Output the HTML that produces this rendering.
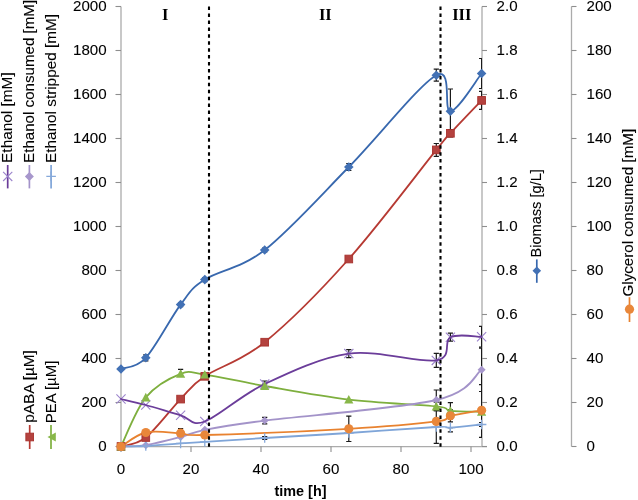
<!DOCTYPE html>
<html><head><meta charset="utf-8"><style>
html,body{margin:0;padding:0;background:#fff;-webkit-font-smoothing:antialiased;}
svg{display:block;will-change:transform;}
text{font-family:"Liberation Sans", sans-serif;font-size:14.4px;fill:#000;stroke:#000;stroke-width:0.1px;}
.b{font-weight:bold;stroke-width:0;}
.n{font-size:15.1px;}
.r{font-family:"Liberation Serif", serif;font-weight:bold;font-size:16.5px;fill:#000;stroke-width:0;}
</style></head><body>
<svg width="638" height="500" viewBox="0 0 638 500">
<defs><clipPath id="pc"><rect x="0" y="0" width="482" height="500"/></clipPath></defs>
<line x1="121" y1="6.5" x2="121" y2="446.5" stroke="#ABABAB" stroke-width="1.3"/>
<line x1="115.5" y1="6.5" x2="121" y2="6.5" stroke="#8E8E8E" stroke-width="1.1"/>
<line x1="115.5" y1="50.5" x2="121" y2="50.5" stroke="#8E8E8E" stroke-width="1.1"/>
<line x1="115.5" y1="94.5" x2="121" y2="94.5" stroke="#8E8E8E" stroke-width="1.1"/>
<line x1="115.5" y1="138.5" x2="121" y2="138.5" stroke="#8E8E8E" stroke-width="1.1"/>
<line x1="115.5" y1="182.5" x2="121" y2="182.5" stroke="#8E8E8E" stroke-width="1.1"/>
<line x1="115.5" y1="226.5" x2="121" y2="226.5" stroke="#8E8E8E" stroke-width="1.1"/>
<line x1="115.5" y1="270.5" x2="121" y2="270.5" stroke="#8E8E8E" stroke-width="1.1"/>
<line x1="115.5" y1="314.5" x2="121" y2="314.5" stroke="#8E8E8E" stroke-width="1.1"/>
<line x1="115.5" y1="358.5" x2="121" y2="358.5" stroke="#8E8E8E" stroke-width="1.1"/>
<line x1="115.5" y1="402.5" x2="121" y2="402.5" stroke="#8E8E8E" stroke-width="1.1"/>
<line x1="115.5" y1="446.5" x2="121" y2="446.5" stroke="#8E8E8E" stroke-width="1.1"/>
<line x1="121" y1="446.7" x2="487" y2="446.7" stroke="#ABABAB" stroke-width="1.3"/>
<line x1="121.0" y1="446.5" x2="121.0" y2="452" stroke="#8E8E8E" stroke-width="1.1"/>
<line x1="191.0" y1="446.5" x2="191.0" y2="452" stroke="#8E8E8E" stroke-width="1.1"/>
<line x1="261.0" y1="446.5" x2="261.0" y2="452" stroke="#8E8E8E" stroke-width="1.1"/>
<line x1="331.0" y1="446.5" x2="331.0" y2="452" stroke="#8E8E8E" stroke-width="1.1"/>
<line x1="401.0" y1="446.5" x2="401.0" y2="452" stroke="#8E8E8E" stroke-width="1.1"/>
<line x1="471.0" y1="446.5" x2="471.0" y2="452" stroke="#8E8E8E" stroke-width="1.1"/>
<line x1="482" y1="6.5" x2="482" y2="446.5" stroke="#ABABAB" stroke-width="1.3"/>
<line x1="482" y1="6.5" x2="487" y2="6.5" stroke="#8E8E8E" stroke-width="1.1"/>
<line x1="482" y1="50.5" x2="487" y2="50.5" stroke="#8E8E8E" stroke-width="1.1"/>
<line x1="482" y1="94.5" x2="487" y2="94.5" stroke="#8E8E8E" stroke-width="1.1"/>
<line x1="482" y1="138.5" x2="487" y2="138.5" stroke="#8E8E8E" stroke-width="1.1"/>
<line x1="482" y1="182.5" x2="487" y2="182.5" stroke="#8E8E8E" stroke-width="1.1"/>
<line x1="482" y1="226.5" x2="487" y2="226.5" stroke="#8E8E8E" stroke-width="1.1"/>
<line x1="482" y1="270.5" x2="487" y2="270.5" stroke="#8E8E8E" stroke-width="1.1"/>
<line x1="482" y1="314.5" x2="487" y2="314.5" stroke="#8E8E8E" stroke-width="1.1"/>
<line x1="482" y1="358.5" x2="487" y2="358.5" stroke="#8E8E8E" stroke-width="1.1"/>
<line x1="482" y1="402.5" x2="487" y2="402.5" stroke="#8E8E8E" stroke-width="1.1"/>
<line x1="482" y1="446.5" x2="487" y2="446.5" stroke="#8E8E8E" stroke-width="1.1"/>
<line x1="571.5" y1="6.5" x2="571.5" y2="446.5" stroke="#ABABAB" stroke-width="1.3"/>
<line x1="571.5" y1="6.5" x2="576.5" y2="6.5" stroke="#8E8E8E" stroke-width="1.1"/>
<line x1="571.5" y1="50.5" x2="576.5" y2="50.5" stroke="#8E8E8E" stroke-width="1.1"/>
<line x1="571.5" y1="94.5" x2="576.5" y2="94.5" stroke="#8E8E8E" stroke-width="1.1"/>
<line x1="571.5" y1="138.5" x2="576.5" y2="138.5" stroke="#8E8E8E" stroke-width="1.1"/>
<line x1="571.5" y1="182.5" x2="576.5" y2="182.5" stroke="#8E8E8E" stroke-width="1.1"/>
<line x1="571.5" y1="226.5" x2="576.5" y2="226.5" stroke="#8E8E8E" stroke-width="1.1"/>
<line x1="571.5" y1="270.5" x2="576.5" y2="270.5" stroke="#8E8E8E" stroke-width="1.1"/>
<line x1="571.5" y1="314.5" x2="576.5" y2="314.5" stroke="#8E8E8E" stroke-width="1.1"/>
<line x1="571.5" y1="358.5" x2="576.5" y2="358.5" stroke="#8E8E8E" stroke-width="1.1"/>
<line x1="571.5" y1="402.5" x2="576.5" y2="402.5" stroke="#8E8E8E" stroke-width="1.1"/>
<line x1="571.5" y1="446.5" x2="576.5" y2="446.5" stroke="#8E8E8E" stroke-width="1.1"/>
<g clip-path="url(#pc)"><path d="M145.80,354.80 L145.80,360.80 M143.20,354.80 L148.40,354.80 M143.20,360.80 L148.40,360.80" stroke="#1a1a1a" stroke-width="1.2" fill="none"/><path d="M180.60,302.60 L180.60,306.60 M178.00,302.60 L183.20,302.60 M178.00,306.60 L183.20,306.60" stroke="#1a1a1a" stroke-width="1.2" fill="none"/><path d="M204.80,277.60 L204.80,281.60 M202.20,277.60 L207.40,277.60 M202.20,281.60 L207.40,281.60" stroke="#1a1a1a" stroke-width="1.2" fill="none"/><path d="M264.70,248.00 L264.70,252.00 M262.10,248.00 L267.30,248.00 M262.10,252.00 L267.30,252.00" stroke="#1a1a1a" stroke-width="1.2" fill="none"/><path d="M348.80,163.50 L348.80,170.50 M346.20,163.50 L351.40,163.50 M346.20,170.50 L351.40,170.50" stroke="#1a1a1a" stroke-width="1.2" fill="none"/><path d="M436.30,69.20 L436.30,81.20 M433.70,69.20 L438.90,69.20 M433.70,81.20 L438.90,81.20" stroke="#1a1a1a" stroke-width="1.2" fill="none"/><path d="M450.40,89.00 L450.40,133.40 M447.80,89.00 L453.00,89.00 M447.80,133.40 L453.00,133.40" stroke="#1a1a1a" stroke-width="1.2" fill="none"/><path d="M481.60,58.50 L481.60,88.50 M479.00,58.50 L484.20,58.50 M479.00,88.50 L484.20,88.50" stroke="#1a1a1a" stroke-width="1.2" fill="none"/></g>
<g clip-path="url(#pc)"><path d="M264.70,417.40 L264.70,423.80 M262.10,417.40 L267.30,417.40 M262.10,423.80 L267.30,423.80" stroke="#1a1a1a" stroke-width="1.2" fill="none"/><path d="M436.30,390.00 L436.30,410.00 M433.70,390.00 L438.90,390.00 M433.70,410.00 L438.90,410.00" stroke="#1a1a1a" stroke-width="1.2" fill="none"/><path d="M481.60,348.10 L481.60,391.50 M479.00,348.10 L484.20,348.10 M479.00,391.50 L484.20,391.50" stroke="#1a1a1a" stroke-width="1.2" fill="none"/></g>
<g clip-path="url(#pc)"><path d="M264.70,436.50 L264.70,439.50 M262.10,436.50 L267.30,436.50 M262.10,439.50 L267.30,439.50" stroke="#1a1a1a" stroke-width="1.2" fill="none"/><path d="M436.30,410.60 L436.30,443.40 M433.70,410.60 L438.90,410.60 M433.70,443.40 L438.90,443.40" stroke="#1a1a1a" stroke-width="1.2" fill="none"/><path d="M450.40,427.60 L450.40,431.80 M447.80,427.60 L453.00,427.60 M447.80,431.80 L453.00,431.80" stroke="#1a1a1a" stroke-width="1.2" fill="none"/><path d="M481.60,422.50 L481.60,426.50 M479.00,422.50 L484.20,422.50 M479.00,426.50 L484.20,426.50" stroke="#1a1a1a" stroke-width="1.2" fill="none"/></g>
<g clip-path="url(#pc)"><path d="M180.60,397.10 L180.60,401.10 M178.00,397.10 L183.20,397.10 M178.00,401.10 L183.20,401.10" stroke="#1a1a1a" stroke-width="1.2" fill="none"/><path d="M264.70,340.20 L264.70,344.20 M262.10,340.20 L267.30,340.20 M262.10,344.20 L267.30,344.20" stroke="#1a1a1a" stroke-width="1.2" fill="none"/><path d="M348.80,257.00 L348.80,261.00 M346.20,257.00 L351.40,257.00 M346.20,261.00 L351.40,261.00" stroke="#1a1a1a" stroke-width="1.2" fill="none"/><path d="M436.30,143.50 L436.30,156.30 M433.70,143.50 L438.90,143.50 M433.70,156.30 L438.90,156.30" stroke="#1a1a1a" stroke-width="1.2" fill="none"/><path d="M450.40,129.80 L450.40,136.80 M447.80,129.80 L453.00,129.80 M447.80,136.80 L453.00,136.80" stroke="#1a1a1a" stroke-width="1.2" fill="none"/><path d="M481.60,91.40 L481.60,109.40 M479.00,91.40 L484.20,91.40 M479.00,109.40 L484.20,109.40" stroke="#1a1a1a" stroke-width="1.2" fill="none"/></g>
<g clip-path="url(#pc)"><path d="M264.70,381.00 L264.70,387.00 M262.10,381.00 L267.30,381.00 M262.10,387.00 L267.30,387.00" stroke="#1a1a1a" stroke-width="1.2" fill="none"/><path d="M348.80,349.60 L348.80,357.60 M346.20,349.60 L351.40,349.60 M346.20,357.60 L351.40,357.60" stroke="#1a1a1a" stroke-width="1.2" fill="none"/><path d="M436.30,353.40 L436.30,367.40 M433.70,353.40 L438.90,353.40 M433.70,367.40 L438.90,367.40" stroke="#1a1a1a" stroke-width="1.2" fill="none"/><path d="M450.40,333.20 L450.40,341.20 M447.80,333.20 L453.00,333.20 M447.80,341.20 L453.00,341.20" stroke="#1a1a1a" stroke-width="1.2" fill="none"/><path d="M481.60,326.40 L481.60,347.20 M479.00,326.40 L484.20,326.40 M479.00,347.20 L484.20,347.20" stroke="#1a1a1a" stroke-width="1.2" fill="none"/></g>
<g clip-path="url(#pc)"><path d="M180.60,369.40 L180.60,373.80 M178.00,369.40 L183.20,369.40" stroke="#1a1a1a" stroke-width="1.2" fill="none"/><path d="M264.70,384.00 L264.70,388.00 M262.10,384.00 L267.30,384.00 M262.10,388.00 L267.30,388.00" stroke="#1a1a1a" stroke-width="1.2" fill="none"/><path d="M436.30,402.20 L436.30,410.60 M433.70,402.20 L438.90,402.20 M433.70,410.60 L438.90,410.60" stroke="#1a1a1a" stroke-width="1.2" fill="none"/><path d="M450.40,402.60 L450.40,419.00 M447.80,402.60 L453.00,402.60 M447.80,419.00 L453.00,419.00" stroke="#1a1a1a" stroke-width="1.2" fill="none"/></g>
<g clip-path="url(#pc)"><path d="M180.60,428.50 L180.60,433.20 M178.00,428.50 L183.20,428.50" stroke="#1a1a1a" stroke-width="1.2" fill="none"/><path d="M348.80,416.10 L348.80,441.50 M346.20,416.10 L351.40,416.10 M346.20,441.50 L351.40,441.50" stroke="#1a1a1a" stroke-width="1.2" fill="none"/><path d="M436.30,418.40 L436.30,424.40 M433.70,418.40 L438.90,418.40 M433.70,424.40 L438.90,424.40" stroke="#1a1a1a" stroke-width="1.2" fill="none"/><path d="M450.40,409.80 L450.40,421.80 M447.80,409.80 L453.00,409.80 M447.80,421.80 L453.00,421.80" stroke="#1a1a1a" stroke-width="1.2" fill="none"/><path d="M481.60,384.70 L481.60,437.30 M479.00,384.70 L484.20,384.70 M479.00,437.30 L484.20,437.30" stroke="#1a1a1a" stroke-width="1.2" fill="none"/></g>
<path d="M121.00,369.00 C125.13,367.13 135.87,368.53 145.80,357.80 C155.73,347.07 170.77,317.63 180.60,304.60 C190.43,291.57 190.78,288.70 204.80,279.60 C218.82,270.50 240.70,268.77 264.70,250.00 C288.70,231.23 320.20,196.13 348.80,167.00 C377.40,137.87 419.37,84.50 436.30,75.20 C453.23,65.90 442.85,111.48 450.40,111.20 C457.95,110.92 476.40,79.78 481.60,73.50" stroke="#3868AE" stroke-width="1.8" fill="none" stroke-linejoin="round" stroke-linecap="round"/>
<path d="M121.00,446.50 C125.13,445.00 135.87,445.40 145.80,437.50 C155.73,429.60 170.77,409.30 180.60,399.10 C190.43,388.90 190.78,385.78 204.80,376.30 C218.82,366.82 240.70,361.75 264.70,342.20 C288.70,322.65 320.20,291.05 348.80,259.00 C377.40,226.95 419.37,170.85 436.30,149.90 C453.23,128.95 442.85,141.55 450.40,133.30 C457.95,125.05 476.40,105.88 481.60,100.40" stroke="#B63A33" stroke-width="1.8" fill="none" stroke-linejoin="round" stroke-linecap="round"/>
<path d="M121.00,446.50 C125.13,438.32 135.87,409.52 145.80,397.40 C155.73,385.28 170.77,377.60 180.60,373.80 C190.43,370.00 190.78,372.57 204.80,374.60 C218.82,376.63 240.70,381.83 264.70,386.00 C288.70,390.17 320.20,396.20 348.80,399.60 C377.40,403.00 419.37,404.53 436.30,406.40 C453.23,408.27 442.85,409.90 450.40,410.80 C457.95,411.70 476.40,411.63 481.60,411.80" stroke="#7EAF3E" stroke-width="1.8" fill="none" stroke-linejoin="round" stroke-linecap="round"/>
<path d="M121.00,446.50 C125.13,446.28 135.87,446.78 145.80,445.20 C155.73,443.62 170.77,439.57 180.60,437.00 C190.43,434.43 190.78,432.53 204.80,429.80 C218.82,427.07 226.12,425.57 264.70,420.60 C303.28,415.63 400.15,408.47 436.30,400.00 C472.45,391.53 474.05,374.83 481.60,369.80" stroke="#A393C9" stroke-width="1.8" fill="none" stroke-linejoin="round" stroke-linecap="round"/>
<path d="M121.00,446.50 C125.13,446.42 135.87,446.52 145.80,446.00 C155.73,445.48 170.77,444.10 180.60,443.40 C190.43,442.70 190.78,442.70 204.80,441.80 C218.82,440.90 240.70,439.47 264.70,438.00 C288.70,436.53 320.20,434.83 348.80,433.00 C377.40,431.17 419.37,427.90 436.30,427.00 C453.23,426.10 442.85,428.02 450.40,427.60 C457.95,427.18 476.40,425.02 481.60,424.50" stroke="#7FA5D8" stroke-width="1.8" fill="none" stroke-linejoin="round" stroke-linecap="round"/>
<path d="M116.40,394.40 L125.60,403.60 M116.40,403.60 L125.60,394.40" stroke="#9C84CC" stroke-width="1.1" fill="none"/>
<path d="M141.20,400.40 L150.40,409.60 M141.20,409.60 L150.40,400.40" stroke="#9C84CC" stroke-width="1.1" fill="none"/>
<path d="M176.00,410.70 L185.20,419.90 M176.00,419.90 L185.20,410.70" stroke="#9C84CC" stroke-width="1.1" fill="none"/>
<path d="M200.20,416.90 L209.40,426.10 M200.20,426.10 L209.40,416.90" stroke="#9C84CC" stroke-width="1.1" fill="none"/>
<path d="M260.10,379.40 L269.30,388.60 M260.10,388.60 L269.30,379.40" stroke="#9C84CC" stroke-width="1.1" fill="none"/>
<path d="M344.20,349.00 L353.40,358.20 M344.20,358.20 L353.40,349.00" stroke="#9C84CC" stroke-width="1.1" fill="none"/>
<path d="M431.70,355.80 L440.90,365.00 M431.70,365.00 L440.90,355.80" stroke="#9C84CC" stroke-width="1.1" fill="none"/>
<path d="M445.80,332.60 L455.00,341.80 M445.80,341.80 L455.00,332.60" stroke="#9C84CC" stroke-width="1.1" fill="none"/>
<path d="M477.00,332.20 L486.20,341.40 M477.00,341.40 L486.20,332.20" stroke="#9C84CC" stroke-width="1.1" fill="none"/>
<path d="M121.00,399.00 C125.13,400.00 135.87,402.28 145.80,405.00 C155.73,407.72 170.77,412.55 180.60,415.30 C190.43,418.05 190.78,426.72 204.80,421.50 C218.82,416.28 240.70,395.32 264.70,384.00 C288.70,372.68 320.20,357.53 348.80,353.60 C377.40,349.67 419.37,363.13 436.30,360.40 C453.23,357.67 442.85,341.13 450.40,337.20 C457.95,333.27 476.40,336.87 481.60,336.80" stroke="#6B3D9A" stroke-width="1.8" fill="none" stroke-linejoin="round" stroke-linecap="round"/>
<path d="M121.00,446.50 C125.13,444.17 135.87,434.72 145.80,432.50 C155.73,430.28 170.77,432.78 180.60,433.20 C190.43,433.62 176.77,435.73 204.80,435.00 C232.83,434.27 310.22,431.07 348.80,428.80 C387.38,426.53 419.37,423.57 436.30,421.40 C453.23,419.23 442.85,417.65 450.40,415.80 C457.95,413.95 476.40,411.22 481.60,410.30" stroke="#E8822F" stroke-width="1.8" fill="none" stroke-linejoin="round" stroke-linecap="round"/>
<path d="M121.00,364.20 L125.80,369.00 L121.00,373.80 L116.20,369.00 Z" fill="#4271B5"/>
<path d="M145.80,353.00 L150.60,357.80 L145.80,362.60 L141.00,357.80 Z" fill="#4271B5"/>
<path d="M180.60,299.80 L185.40,304.60 L180.60,309.40 L175.80,304.60 Z" fill="#4271B5"/>
<path d="M204.80,274.80 L209.60,279.60 L204.80,284.40 L200.00,279.60 Z" fill="#4271B5"/>
<path d="M264.70,245.20 L269.50,250.00 L264.70,254.80 L259.90,250.00 Z" fill="#4271B5"/>
<path d="M348.80,162.20 L353.60,167.00 L348.80,171.80 L344.00,167.00 Z" fill="#4271B5"/>
<path d="M436.30,70.40 L441.10,75.20 L436.30,80.00 L431.50,75.20 Z" fill="#4271B5"/>
<path d="M450.40,106.40 L455.20,111.20 L450.40,116.00 L445.60,111.20 Z" fill="#4271B5"/>
<path d="M481.60,68.70 L486.40,73.50 L481.60,78.30 L476.80,73.50 Z" fill="#4271B5"/>
<path d="M121.00,442.50 L125.00,446.50 L121.00,450.50 L117.00,446.50 Z" fill="#A797CC"/>
<path d="M145.80,441.20 L149.80,445.20 L145.80,449.20 L141.80,445.20 Z" fill="#A797CC"/>
<path d="M180.60,433.00 L184.60,437.00 L180.60,441.00 L176.60,437.00 Z" fill="#A797CC"/>
<path d="M204.80,425.80 L208.80,429.80 L204.80,433.80 L200.80,429.80 Z" fill="#A797CC"/>
<path d="M264.70,416.60 L268.70,420.60 L264.70,424.60 L260.70,420.60 Z" fill="#A797CC"/>
<path d="M436.30,396.00 L440.30,400.00 L436.30,404.00 L432.30,400.00 Z" fill="#A797CC"/>
<path d="M481.60,365.80 L485.60,369.80 L481.60,373.80 L477.60,369.80 Z" fill="#A797CC"/>
<path d="M116.20,446.50 L125.80,446.50 M121.00,441.70 L121.00,451.30" stroke="#86A9DA" stroke-width="1.3" fill="none"/>
<path d="M141.00,446.00 L150.60,446.00 M145.80,441.20 L145.80,450.80" stroke="#86A9DA" stroke-width="1.3" fill="none"/>
<path d="M175.80,443.40 L185.40,443.40 M180.60,438.60 L180.60,448.20" stroke="#86A9DA" stroke-width="1.3" fill="none"/>
<path d="M200.00,441.80 L209.60,441.80 M204.80,437.00 L204.80,446.60" stroke="#86A9DA" stroke-width="1.3" fill="none"/>
<path d="M259.90,438.00 L269.50,438.00 M264.70,433.20 L264.70,442.80" stroke="#86A9DA" stroke-width="1.3" fill="none"/>
<path d="M344.00,433.00 L353.60,433.00 M348.80,428.20 L348.80,437.80" stroke="#86A9DA" stroke-width="1.3" fill="none"/>
<path d="M431.50,427.00 L441.10,427.00 M436.30,422.20 L436.30,431.80" stroke="#86A9DA" stroke-width="1.3" fill="none"/>
<path d="M445.60,427.60 L455.20,427.60 M450.40,422.80 L450.40,432.40" stroke="#86A9DA" stroke-width="1.3" fill="none"/>
<path d="M476.80,424.50 L486.40,424.50 M481.60,419.70 L481.60,429.30" stroke="#86A9DA" stroke-width="1.3" fill="none"/>
<rect x="117.15" y="442.65" width="7.70" height="7.70" fill="#B4423F" stroke="#A8322E" stroke-width="0.9"/>
<rect x="141.95" y="433.65" width="7.70" height="7.70" fill="#B4423F" stroke="#A8322E" stroke-width="0.9"/>
<rect x="176.75" y="395.25" width="7.70" height="7.70" fill="#B4423F" stroke="#A8322E" stroke-width="0.9"/>
<rect x="200.95" y="372.45" width="7.70" height="7.70" fill="#B4423F" stroke="#A8322E" stroke-width="0.9"/>
<rect x="260.85" y="338.35" width="7.70" height="7.70" fill="#B4423F" stroke="#A8322E" stroke-width="0.9"/>
<rect x="344.95" y="255.15" width="7.70" height="7.70" fill="#B4423F" stroke="#A8322E" stroke-width="0.9"/>
<rect x="432.45" y="146.05" width="7.70" height="7.70" fill="#B4423F" stroke="#A8322E" stroke-width="0.9"/>
<rect x="446.55" y="129.45" width="7.70" height="7.70" fill="#B4423F" stroke="#A8322E" stroke-width="0.9"/>
<rect x="477.75" y="96.55" width="7.70" height="7.70" fill="#B4423F" stroke="#A8322E" stroke-width="0.9"/>
<path d="M121.00,441.90 L125.60,450.50 L116.40,450.50 Z" fill="#88B749"/>
<path d="M145.80,392.80 L150.40,401.40 L141.20,401.40 Z" fill="#88B749"/>
<path d="M180.60,369.20 L185.20,377.80 L176.00,377.80 Z" fill="#88B749"/>
<path d="M204.80,370.00 L209.40,378.60 L200.20,378.60 Z" fill="#88B749"/>
<path d="M264.70,381.40 L269.30,390.00 L260.10,390.00 Z" fill="#88B749"/>
<path d="M348.80,395.00 L353.40,403.60 L344.20,403.60 Z" fill="#88B749"/>
<path d="M436.30,401.80 L440.90,410.40 L431.70,410.40 Z" fill="#88B749"/>
<path d="M450.40,406.20 L455.00,414.80 L445.80,414.80 Z" fill="#88B749"/>
<path d="M481.60,407.20 L486.20,415.80 L477.00,415.80 Z" fill="#88B749"/>
<circle cx="121.00" cy="446.50" r="4.6" fill="#E9873A"/>
<circle cx="145.80" cy="432.50" r="4.6" fill="#E9873A"/>
<circle cx="180.60" cy="433.20" r="4.6" fill="#E9873A"/>
<circle cx="204.80" cy="435.00" r="4.6" fill="#E9873A"/>
<circle cx="348.80" cy="428.80" r="4.6" fill="#E9873A"/>
<circle cx="436.30" cy="421.40" r="4.6" fill="#E9873A"/>
<circle cx="450.40" cy="415.80" r="4.6" fill="#E9873A"/>
<circle cx="481.60" cy="410.30" r="4.6" fill="#E9873A"/>
<line x1="209" y1="6.6" x2="209" y2="447" stroke="#000" stroke-width="2.1" stroke-dasharray="3.5 3.43"/>
<line x1="440.5" y1="6.6" x2="440.5" y2="447" stroke="#000" stroke-width="2.1" stroke-dasharray="3.5 3.43"/>
<text class="n" transform="translate(106.6,11.45)" text-anchor="end">2000</text>
<text class="n" transform="translate(106.6,55.45)" text-anchor="end">1800</text>
<text class="n" transform="translate(106.6,99.45)" text-anchor="end">1600</text>
<text class="n" transform="translate(106.6,143.45)" text-anchor="end">1400</text>
<text class="n" transform="translate(106.6,187.45)" text-anchor="end">1200</text>
<text class="n" transform="translate(106.6,231.45)" text-anchor="end">1000</text>
<text class="n" transform="translate(106.6,275.45)" text-anchor="end">800</text>
<text class="n" transform="translate(106.6,319.45)" text-anchor="end">600</text>
<text class="n" transform="translate(106.6,363.45)" text-anchor="end">400</text>
<text class="n" transform="translate(106.6,407.45)" text-anchor="end">200</text>
<text class="n" transform="translate(106.6,451.45)" text-anchor="end">0</text>
<text class="n" transform="translate(121.00,473.6)" text-anchor="middle">0</text>
<text class="n" transform="translate(191.00,473.6)" text-anchor="middle">20</text>
<text class="n" transform="translate(261.00,473.6)" text-anchor="middle">40</text>
<text class="n" transform="translate(331.00,473.6)" text-anchor="middle">60</text>
<text class="n" transform="translate(401.00,473.6)" text-anchor="middle">80</text>
<text class="n" transform="translate(471.00,473.6)" text-anchor="middle">100</text>
<text class="n" transform="translate(496.6,11.45)">2.0</text>
<text class="n" transform="translate(496.6,55.45)">1.8</text>
<text class="n" transform="translate(496.6,99.45)">1.6</text>
<text class="n" transform="translate(496.6,143.45)">1.4</text>
<text class="n" transform="translate(496.6,187.45)">1.2</text>
<text class="n" transform="translate(496.6,231.45)">1.0</text>
<text class="n" transform="translate(496.6,275.45)">0.8</text>
<text class="n" transform="translate(496.6,319.45)">0.6</text>
<text class="n" transform="translate(496.6,363.45)">0.4</text>
<text class="n" transform="translate(496.6,407.45)">0.2</text>
<text class="n" transform="translate(496.6,451.45)">0.0</text>
<text class="n" transform="translate(586.5,11.45)">200</text>
<text class="n" transform="translate(586.5,55.45)">180</text>
<text class="n" transform="translate(586.5,99.45)">160</text>
<text class="n" transform="translate(586.5,143.45)">140</text>
<text class="n" transform="translate(586.5,187.45)">120</text>
<text class="n" transform="translate(586.5,231.45)">100</text>
<text class="n" transform="translate(586.5,275.45)">80</text>
<text class="n" transform="translate(586.5,319.45)">60</text>
<text class="n" transform="translate(586.5,363.45)">40</text>
<text class="n" transform="translate(586.5,407.45)">20</text>
<text class="n" transform="translate(586.5,451.45)">0</text>
<text transform="translate(11.80,162.90) rotate(-90)" textLength="90.6" lengthAdjust="spacingAndGlyphs">Ethanol [mM]</text>
<text transform="translate(33.80,162.90) rotate(-90)" textLength="163.0" lengthAdjust="spacingAndGlyphs">Ethanol consumed [mM]</text>
<text transform="translate(55.60,162.90) rotate(-90)" textLength="148.8" lengthAdjust="spacingAndGlyphs">Ethanol stripped [mM]</text>
<text transform="translate(34.00,422.70) rotate(-90)" textLength="72.5" lengthAdjust="spacingAndGlyphs">pABA [µM]</text>
<text transform="translate(55.80,423.20) rotate(-90)" textLength="62.5" lengthAdjust="spacingAndGlyphs">PEA [µM]</text>
<text transform="translate(541.00,257.50) rotate(-90)" textLength="88.3" lengthAdjust="spacingAndGlyphs">Biomass [g/L]</text>
<text transform="translate(633.20,296.50) rotate(-90)" textLength="167.6" lengthAdjust="spacingAndGlyphs">Glycerol consumed [mM]</text>
<line x1="7.70" y1="165.00" x2="7.70" y2="188.40" stroke="#6B3D9A" stroke-width="1.7"/>
<path d="M3.10,171.80 L12.30,181.00 M3.10,181.00 L12.30,171.80" stroke="#9C84CC" stroke-width="1.1" fill="none"/>
<line x1="29.40" y1="165.00" x2="29.40" y2="188.40" stroke="#A393C9" stroke-width="1.7"/>
<path d="M29.40,171.90 L33.90,176.40 L29.40,180.90 L24.90,176.40 Z" fill="#A797CC"/>
<line x1="51.10" y1="165.00" x2="51.10" y2="188.40" stroke="#7FA5D8" stroke-width="1.7"/>
<path d="M46.30,176.40 L55.90,176.40 M51.10,171.60 L51.10,181.20" stroke="#86A9DA" stroke-width="1.3" fill="none"/>
<line x1="29.70" y1="425.00" x2="29.70" y2="449.00" stroke="#B63A33" stroke-width="1.7"/>
<rect x="25.85" y="433.15" width="7.70" height="7.70" fill="#B4423F" stroke="#A8322E" stroke-width="0.9"/>
<line x1="51.00" y1="425.00" x2="51.00" y2="449.00" stroke="#7EAF3E" stroke-width="1.7"/>
<path d="M47.5,437 L55.8,432.4 L55.8,441.6 Z" fill="#88B749"/>
<line x1="536.80" y1="259.40" x2="536.80" y2="282.80" stroke="#3868AE" stroke-width="1.7"/>
<path d="M536.80,266.50 L541.10,270.80 L536.80,275.10 L532.50,270.80 Z" fill="#4271B5"/>
<line x1="629.50" y1="297.20" x2="629.50" y2="322.00" stroke="#E8822F" stroke-width="1.7"/>
<circle cx="629.50" cy="309.20" r="4.6" fill="#E9873A"/>
<text class="b" x="300.5" y="495.5" text-anchor="middle">time [h]</text>
<text class="r" x="165.2" y="19.8" text-anchor="middle">I</text>
<text class="r" x="325.3" y="19.8" text-anchor="middle">II</text>
<text class="r" x="461.8" y="19.8" text-anchor="middle">III</text>
</svg>
</body></html>
